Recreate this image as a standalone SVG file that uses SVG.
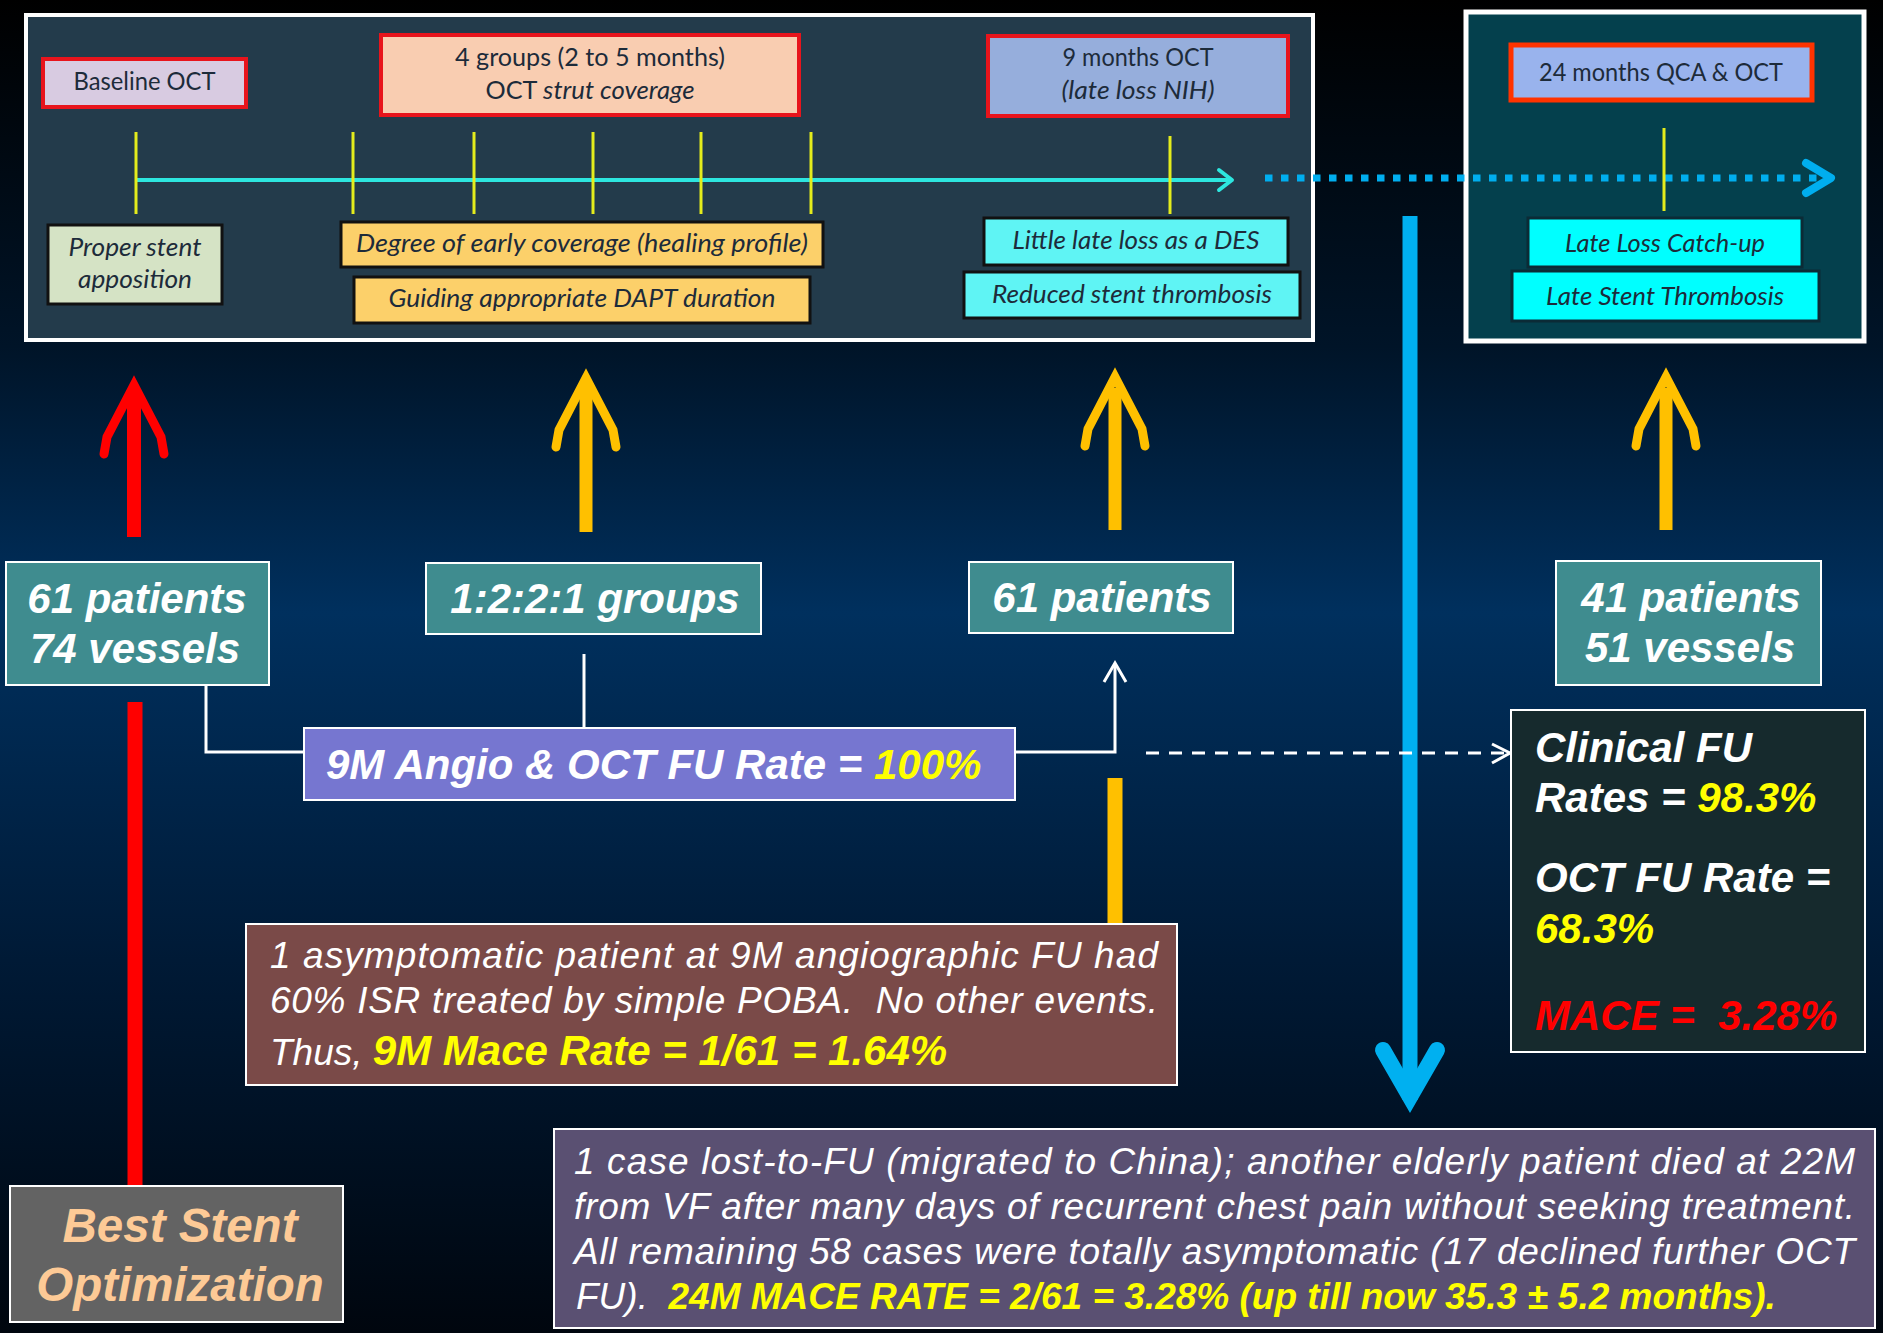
<svg xmlns="http://www.w3.org/2000/svg" width="1883" height="1333" viewBox="0 0 1883 1333">
<defs>
<linearGradient id="bg" x1="0" y1="0" x2="0" y2="1">
<stop offset="0" stop-color="#000000"/>
<stop offset="0.26" stop-color="#001428"/>
<stop offset="0.46" stop-color="#00305e"/>
<stop offset="0.72" stop-color="#001a36"/>
<stop offset="1" stop-color="#00060e"/>
</linearGradient>
<path id="upHead" d="M-30,69 L-27,52 L0,0 L27,52 L30,69" fill="none" stroke="currentColor" stroke-width="9" stroke-linecap="round" stroke-linejoin="miter"/>
<style>
.cal{font-family:Lato,"Open Sans",sans-serif;font-size:24.5px;fill:#1d2b3a;text-anchor:middle}
.it{font-style:italic;font-size:25px}
.ar{font-family:"Liberation Sans",Arial,sans-serif;font-style:italic;fill:#fff}
.bi{font-family:"Liberation Sans",Arial,sans-serif;font-weight:bold;font-style:italic}
.tl{fill:#3f8c8f;stroke:#fff;stroke-width:2}
.red{stroke:#e8141c;stroke-width:4}
.blk{stroke:#111;stroke-width:3}
.tick{stroke:#e4ec1c;stroke-width:3}
.conn{stroke:#fff;stroke-width:3;fill:none}
.tc{text-anchor:middle}
</style>
</defs>
<rect width="1883" height="1333" fill="url(#bg)"/>

<g id="panel-early">
<rect x="26" y="15" width="1287" height="325" fill="#233b4b" stroke="#fff" stroke-width="4"/>
</g>
<g id="panel-late">
<rect x="1466" y="12" width="398" height="329" fill="#04404d" stroke="#fff" stroke-width="5"/>
</g>

<g id="connectors">
<line x1="136" y1="180" x2="1231" y2="180" stroke="#2de6df" stroke-width="4"/>
<path d="M1219,170 L1232,180 L1219,190" fill="none" stroke="#2de6df" stroke-width="4" stroke-linecap="round" stroke-linejoin="round"/>
<line x1="1265" y1="178" x2="1826" y2="178" stroke="#00aeef" stroke-width="7" stroke-dasharray="7.5 8.5"/>
<path d="M1806,163 L1831,178 L1806,193" fill="none" stroke="#00aeef" stroke-width="8" stroke-linecap="round" stroke-linejoin="round"/>
<g class="tick">
<line x1="136" y1="132" x2="136" y2="214"/>
<line x1="353" y1="132" x2="353" y2="214"/>
<line x1="474" y1="132" x2="474" y2="214"/>
<line x1="593" y1="132" x2="593" y2="214"/>
<line x1="701" y1="132" x2="701" y2="214"/>
<line x1="811" y1="132" x2="811" y2="214"/>
<line x1="1170" y1="136" x2="1170" y2="214"/>
<line x1="1664" y1="128" x2="1664" y2="211"/>
</g>
<line x1="134" y1="395" x2="134" y2="537" stroke="#ff0000" stroke-width="14"/>
<use href="#upHead" x="134" y="385" style="color:#ff0000"/>
<line x1="586" y1="388" x2="586" y2="532" stroke="#ffc000" stroke-width="13"/>
<use href="#upHead" x="586" y="378" style="color:#ffc000"/>
<line x1="1115" y1="388" x2="1115" y2="530" stroke="#ffc000" stroke-width="13"/>
<use href="#upHead" x="1115" y="377" style="color:#ffc000"/>
<line x1="1666" y1="388" x2="1666" y2="530" stroke="#ffc000" stroke-width="13"/>
<use href="#upHead" x="1666" y="377" style="color:#ffc000"/>
<line x1="1410" y1="216" x2="1410" y2="1100" stroke="#00b0f0" stroke-width="15"/>
<path d="M1383,1050 L1410,1097 L1437,1050" fill="none" stroke="#00b0f0" stroke-width="16" stroke-linecap="round" stroke-linejoin="miter"/>
<path class="conn" d="M206,685 V752 H304"/>
<line class="conn" x1="584" y1="654" x2="584" y2="728"/>
<path class="conn" d="M1015,752 H1115 V664"/>
<path class="conn" d="M1104,682 L1115,663 L1126,682" stroke-linejoin="miter"/>
<line class="conn" x1="1146" y1="753" x2="1508" y2="753" stroke-dasharray="13 10"/>
<path class="conn" d="M1492,744 L1510,753 L1492,763"/>
<line x1="135" y1="702" x2="135" y2="1186" stroke="#ff0000" stroke-width="15"/>
<line x1="1115" y1="778" x2="1115" y2="924" stroke="#ffc000" stroke-width="15"/>
</g>

<g id="baseline-oct">
<rect x="43" y="59" width="203" height="48" fill="#d8cbe1" class="red"/>
<text class="cal" x="144.5" y="90" textLength="142" lengthAdjust="spacingAndGlyphs">Baseline OCT</text>
</g>
<g id="four-groups">
<rect x="381" y="35" width="418" height="80" fill="#f9cdb1" class="red"/>
<text class="cal" x="590" y="66" textLength="270" lengthAdjust="spacingAndGlyphs">4 groups (2 to 5 months)</text>
<text class="cal" x="590" y="99" textLength="209" lengthAdjust="spacingAndGlyphs">OCT <tspan class="it">strut coverage</tspan></text>
</g>
<g id="oct-9m">
<rect x="988" y="36" width="300" height="80" fill="#96aedc" class="red"/>
<text class="cal" x="1138" y="66" textLength="151" lengthAdjust="spacingAndGlyphs">9 months OCT</text>
<text class="cal it" x="1138" y="99" textLength="153" lengthAdjust="spacingAndGlyphs">(late loss NIH)</text>
</g>
<g id="proper-stent">
<rect x="48" y="225" width="174" height="79" fill="#d5e3c5" class="blk"/>
<text class="cal it" x="135" y="256" textLength="133" lengthAdjust="spacingAndGlyphs">Proper stent</text>
<text class="cal it" x="135" y="288" textLength="114" lengthAdjust="spacingAndGlyphs">apposition</text>
</g>
<g id="early-coverage">
<rect x="341" y="222" width="482" height="45" fill="#fcd06a" class="blk"/>
<text class="cal it" x="582" y="252" textLength="452" lengthAdjust="spacingAndGlyphs">Degree of early coverage (healing profile)</text>
</g>
<g id="dapt">
<rect x="354" y="277" width="456" height="46" fill="#fcd06a" class="blk"/>
<text class="cal it" x="582" y="307" textLength="387" lengthAdjust="spacingAndGlyphs">Guiding appropriate DAPT duration</text>
</g>
<g id="little-late-loss">
<rect x="984" y="218" width="304" height="47" fill="#5ff4f4" class="blk"/>
<text class="cal it" x="1136" y="249" textLength="247" lengthAdjust="spacingAndGlyphs">Little late loss as a DES</text>
</g>
<g id="reduced-st">
<rect x="964" y="272" width="336" height="46" fill="#5ff4f4" class="blk"/>
<text class="cal it" x="1132" y="303" textLength="280" lengthAdjust="spacingAndGlyphs">Reduced stent thrombosis</text>
</g>
<g id="qca-24m">
<rect x="1511" y="45" width="301" height="55" fill="#99b3ed" stroke="#ff3300" stroke-width="5"/>
<text class="cal" x="1661" y="81" textLength="244" lengthAdjust="spacingAndGlyphs">24 months QCA &amp; OCT</text>
</g>
<g id="late-loss-catchup">
<rect x="1528" y="218" width="274" height="49" fill="#00ffff" stroke="#0b2b36" stroke-width="3"/>
<text class="cal it" x="1665" y="252" textLength="200" lengthAdjust="spacingAndGlyphs">Late Loss Catch-up</text>
</g>
<g id="late-st">
<rect x="1512" y="271" width="307" height="50" fill="#00ffff" stroke="#0b2b36" stroke-width="3"/>
<text class="cal it" x="1665" y="305" textLength="238" lengthAdjust="spacingAndGlyphs">Late Stent Thrombosis</text>
</g>

<g id="n61-74">
<rect x="6" y="562" width="263" height="123" class="tl"/>
<text class="bi tc" x="137" y="613" font-size="42" fill="#fff">61 patients</text>
<text class="bi tc" x="135" y="663" font-size="42" fill="#fff">74 vessels</text>
</g>
<g id="groups-1221">
<rect x="426" y="563" width="335" height="71" class="tl"/>
<text class="bi tc" x="595" y="613" font-size="42" fill="#fff">1:2:2:1 groups</text>
</g>
<g id="n61">
<rect x="969" y="562" width="264" height="71" class="tl"/>
<text class="bi tc" x="1102" y="612" font-size="42" fill="#fff">61 patients</text>
</g>
<g id="n41-51">
<rect x="1556" y="561" width="265" height="124" class="tl"/>
<text class="bi tc" x="1691" y="612" font-size="42" fill="#fff">41 patients</text>
<text class="bi tc" x="1690" y="662" font-size="42" fill="#fff">51 vessels</text>
</g>
<g id="fu-rate-9m">
<rect x="304" y="728" width="711" height="72" fill="#7676d0" stroke="#fff" stroke-width="2"/>
<text class="bi" x="326" y="779" font-size="42" fill="#fff">9M Angio &amp; OCT FU Rate = <tspan fill="#ffff00">100%</tspan></text>
</g>
<g id="clinical-fu">
<rect x="1511" y="710" width="354" height="342" fill="#162a2d" stroke="#fff" stroke-width="2"/>
<text class="bi" x="1535" y="762" font-size="42" fill="#fff">Clinical FU</text>
<text class="bi" x="1535" y="812" font-size="42" fill="#fff">Rates = <tspan fill="#ffff00">98.3%</tspan></text>
<text class="bi" x="1535" y="892" font-size="42" fill="#fff">OCT FU Rate =</text>
<text class="bi" x="1535" y="943" font-size="42" fill="#ffff00">68.3%</text>
<text class="bi" x="1535" y="1030" font-size="42" fill="#ff0000" xml:space="preserve">MACE =  3.28%</text>
</g>
<g id="mace-9m">
<rect x="246" y="924" width="931" height="161" fill="#7a4a48" stroke="#fff" stroke-width="2"/>
<text class="ar" x="270" y="968" font-size="37" textLength="888" lengthAdjust="spacing">1 asymptomatic patient at 9M angiographic FU had</text>
<text class="ar" x="270" y="1013" font-size="37" textLength="888" lengthAdjust="spacing" xml:space="preserve">60% ISR treated by simple POBA.  No other events.</text>
<text class="ar" x="270" y="1065" font-size="37" xml:space="preserve">Thus, <tspan class="bi" font-size="42" fill="#ffff00">9M Mace Rate = 1/61 = 1.64%</tspan></text>
</g>
<g id="mace-24m">
<rect x="554" y="1129" width="1321" height="199" fill="#5a5072" stroke="#fff" stroke-width="2"/>
<text class="ar" x="574" y="1174" font-size="37" textLength="1281" lengthAdjust="spacing">1 case lost-to-FU (migrated to China); another elderly patient died at 22M</text>
<text class="ar" x="574" y="1219" font-size="37" textLength="1281" lengthAdjust="spacing">from VF after many days of recurrent chest pain without seeking treatment.</text>
<text class="ar" x="574" y="1264" font-size="37" textLength="1281" lengthAdjust="spacing">All remaining 58 cases were totally asymptomatic (17 declined further OCT</text>
<text class="ar" x="576" y="1309" font-size="37" xml:space="preserve">FU).  <tspan class="bi" fill="#ffff00">24M MACE RATE = 2/61 = 3.28% (up till now 35.3 ± 5.2 months).</tspan></text>
</g>
<g id="best-stent">
<rect x="10" y="1186" width="333" height="136" fill="#636363" stroke="#fff" stroke-width="2"/>
<text class="bi tc" x="180" y="1242" font-size="47.5" fill="#fdca96">Best Stent</text>
<text class="bi tc" x="180" y="1301" font-size="47.5" fill="#fdca96">Optimization</text>
</g>
</svg>
